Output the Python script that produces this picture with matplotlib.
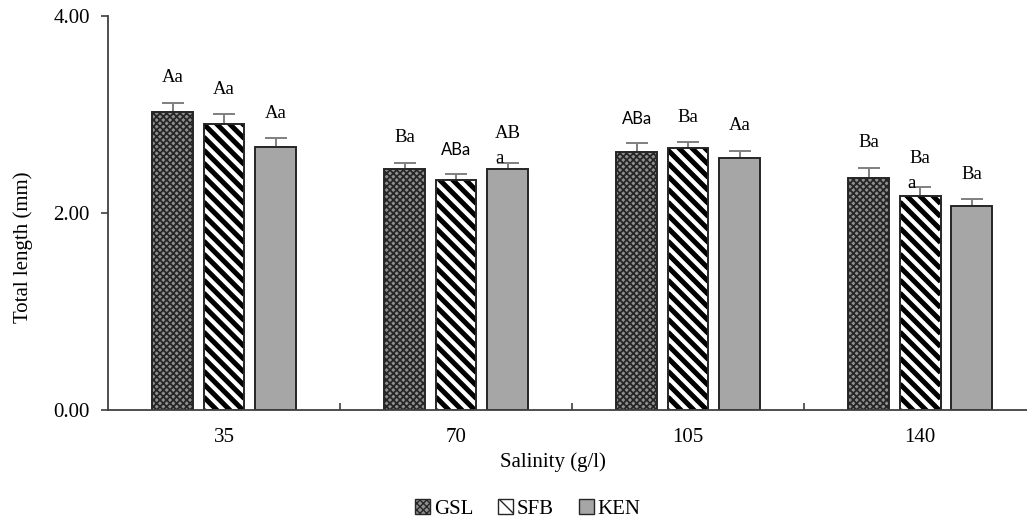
import numpy as np
import matplotlib as mpl
import matplotlib.pyplot as plt
import matplotlib.patches as mpatches

salinity = ["35", "70", "105", "140"]
series = ["GSL", "SFB", "KEN"]

gsl_mean = [3.03, 2.45, 2.62, 2.36]
gsl_err = [0.09, 0.06, 0.09, 0.10]
sfb_mean = [2.90, 2.33, 2.66, 2.17]
sfb_err = [0.10, 0.07, 0.06, 0.09]
ken_mean = [2.67, 2.45, 2.56, 2.07]
ken_err = [0.09, 0.06, 0.07, 0.07]

gsl_lab = ["Aa", "Ba", "ABa", "Ba"]
sfb_lab = ["Aa", "ABa", "Ba", "Ba\na"]
ken_lab = ["Aa", "AB\na", "Aa", "Ba"]

means = [gsl_mean, sfb_mean, ken_mean]
errs = [gsl_err, sfb_err, ken_err]
labs = [gsl_lab, sfb_lab, ken_lab]

plt.rcParams["font.family"] = ["Liberation Serif", "DejaVu Serif"]

W, H = 1027, 522
fig = plt.figure(figsize=(W / 100, H / 100), dpi=100)
ax = fig.add_axes([108 / W, 112 / H, 1 - 108 / W, 394 / H])
ax.set_xlim(-0.5, 3.46)
ax.set_ylim(0, 4)

# pixels per data unit, to keep the stripes at 45 degrees
ppx = (W - 108) / 3.96
ppy = 394 / 4.0
k = ppx / ppy

x = np.arange(len(salinity))
step = 0.222
width = 0.175
edge = "#262626"
gsl_face = "#8f8f8f"


def stripe(bar, period_px=13.0, lw=3.6):
    x0 = bar.get_x()
    x1 = x0 + bar.get_width()
    h = bar.get_height()
    dc = period_px / ppy
    for c in np.arange(0, h + k * (x1 - x0) + dc, dc):
        ln, = ax.plot([x0, x1], [c, c - k * (x1 - x0)], color="black", lw=lw,
                      solid_capstyle="butt", zorder=2.1)
        ln.set_clip_path(bar)


for i, (m, e) in enumerate(zip(means, errs)):
    pos = x + (i - 1) * step
    if i == 0:
        with mpl.rc_context({"hatch.linewidth": 1.3}):
            bars = ax.bar(pos, m, width, facecolor=gsl_face, edgecolor=edge,
                          hatch="xxxxx", linewidth=1.4, zorder=2)
    elif i == 1:
        bars = ax.bar(pos, m, width, facecolor="white", edgecolor="none", zorder=2)
        for b in bars:
            stripe(b)
        ax.bar(pos, m, width, facecolor="none", edgecolor=edge, linewidth=1.4, zorder=2.2)
    else:
        bars = ax.bar(pos, m, width, facecolor="#a6a6a6", edgecolor=edge,
                      linewidth=1.4, zorder=2)
    ax.errorbar(pos, m, yerr=[np.zeros(len(m)), e], fmt="none", ecolor="#7f7f7f",
                elinewidth=1.4, capsize=8, capthick=1.4, zorder=1)
    for p, v, er, lab in zip(pos, m, e, labs[i]):
        top = v + er
        if "\n" in lab:
            main, sub = lab.split("\n")
            ax.annotate(main, (p, top), xytext=(0, 21), textcoords="offset points",
                        ha="center", va="center", fontsize=13.5)
            ax.annotate(sub, (p, top), xytext=(-6, 3), textcoords="offset points",
                        ha="center", va="center", fontsize=13.5)
        elif lab == "ABa":
            ax.annotate(lab, (p, top), xytext=(0, 17), textcoords="offset points",
                        ha="center", va="center", fontsize=12, family="Lato")
        else:
            ax.annotate(lab, (p, top), xytext=(0, 18), textcoords="offset points",
                        ha="center", va="center", fontsize=13.5)

ax.set_yticks([0, 2, 4])
ax.set_yticklabels(["0.00", "2.00", "4.00"], fontsize=15)
ax.set_xticks(x)
ax.set_xticklabels(salinity, fontsize=15)
ax.tick_params(axis="x", length=0, pad=13)
ax.set_xticks([0.5, 1.5, 2.5], minor=True)
ax.tick_params(axis="x", which="minor", direction="in", length=5, width=1.2, color="#404040")
ax.tick_params(axis="y", direction="out", length=5, width=1.2, color="#404040", pad=8)

for s in ["top", "right"]:
    ax.spines[s].set_visible(False)
for s in ["left", "bottom"]:
    ax.spines[s].set_color("#404040")
    ax.spines[s].set_linewidth(1.3)

fig.text(553 / W, 1 - 462 / H, "Salinity (g/l)", ha="center", va="center", fontsize=15)
fig.text(23 / W, 1 - 247 / H, "Total length (mm)", ha="center", va="center",
         rotation=90, fontsize=15)

with mpl.rc_context({"hatch.linewidth": 3.0}):
    h_sfb = mpatches.Patch(facecolor="white", edgecolor=edge, hatch="\\", lw=1.0)
with mpl.rc_context({"hatch.linewidth": 1.0}):
    h_gsl = mpatches.Patch(facecolor=gsl_face, edgecolor=edge, hatch="xxxxx", lw=1.0)
h_ken = mpatches.Patch(facecolor="#a6a6a6", edgecolor=edge, lw=1.0)

fig.legend([h_gsl, h_sfb, h_ken], series, loc="center", bbox_to_anchor=(528 / W, 13 / H),
           ncol=3, frameon=False, fontsize=15, handlelength=0.7, handleheight=0.7,
           handletextpad=0.2, columnspacing=1.2)

fig.savefig("out.png", dpi=100)
